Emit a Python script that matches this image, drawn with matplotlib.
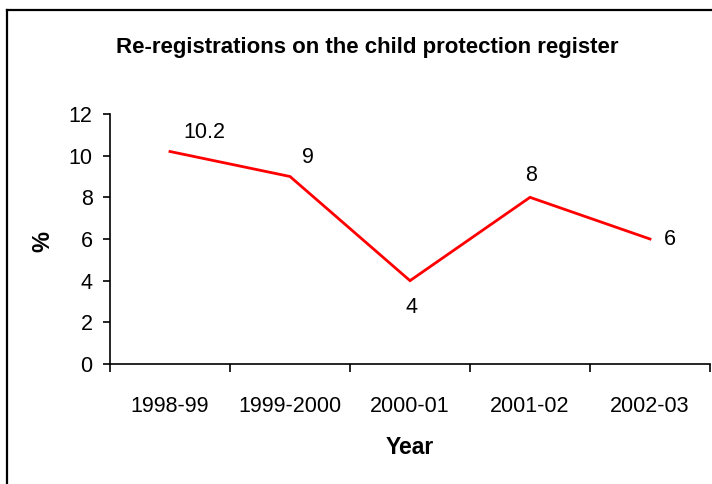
import matplotlib
matplotlib.use("Agg")
import matplotlib.pyplot as plt
from matplotlib.lines import Line2D

years = ["1998-99", "1999-2000", "2000-01", "2001-02", "2002-03"]
values = [10.2, 9, 4, 8, 6]
value_labels = ["10.2", "9", "4", "8", "6"]
yticks = [0, 2, 4, 6, 8, 10, 12]

plt.rcParams['font.family'] = ['Liberation Sans', 'DejaVu Sans']

W, H = 712, 484
fig = plt.figure(figsize=(W / 100, H / 100), dpi=100)
ax = fig.add_axes([110 / W, 1 - 364 / H, 600 / W, 250 / H])

x = list(range(len(years)))
ax.plot(x, values, color='#ff0000', lw=2.0, solid_joinstyle='miter')

offsets = [(25, 14), (13, 14), (1, -19), (1, 16), (14, 0)]
for xi, v, lab, off in zip(x, values, value_labels, offsets):
    ax.annotate(lab, (xi, v), xytext=off, textcoords='offset points',
                ha='center', va='center', fontsize=15.5, color='black')

ax.set_xlim(-0.5, len(years) - 0.5)
ax.set_ylim(0, 12)
ax.set_yticks(yticks)
ax.set_yticklabels([str(t) for t in yticks], fontsize=15.5)
ax.set_xticks(x)
ax.set_xticklabels(years, fontsize=15.5)
ax.set_xticks([i - 0.5 for i in range(len(years) + 1)], minor=True)
ax.tick_params(axis='x', which='major', length=0, pad=23)
ax.tick_params(axis='x', which='minor', length=6, width=1.2, direction='out')
ax.tick_params(axis='y', which='major', length=5, width=1.2, direction='out', pad=7.5)

for s in ['top', 'right']:
    ax.spines[s].set_visible(False)
for s in ['left', 'bottom']:
    ax.spines[s].set_linewidth(1.2)
    ax.spines[s].set_color('black')

fig.text(367 / W, 1 - 53 / H, "Re-registrations on the child protection register",
         ha='center', va='baseline', fontsize=16, fontweight='bold')
fig.text(43 / W, 1 - 242 / H, "%", ha='center', va='center', rotation=90,
         fontsize=17, fontweight='bold')
fig.text(410 / W, 1 - 447 / H, "Year", ha='center', va='center',
         fontsize=16.5, fontweight='bold')

# outer frame (top and left edges visible)
fig.add_artist(Line2D([6.5 / W, 6.5 / W], [0, 1 - 10 / H], transform=fig.transFigure,
                      color='black', lw=1.6))
fig.add_artist(Line2D([6.5 / W, 1], [1 - 10 / H, 1 - 10 / H], transform=fig.transFigure,
                      color='black', lw=1.6))

fig.savefig("out.png", dpi=100)
